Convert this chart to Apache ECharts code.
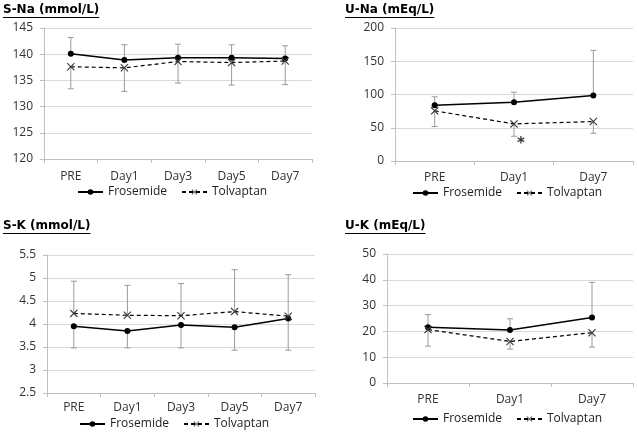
<!DOCTYPE html>
<html>
<head>
<meta charset="utf-8">
<script src="https://cdn.jsdelivr.net/npm/echarts@6/dist/echarts.min.js"></script>
<style>
  html, body { margin: 0; padding: 0; background: #fff; }
  #chart { width: 637px; height: 435px; }
</style>
</head>
<body>
<div id="chart"></div>
<script>
// categories
const serumDays = ['PRE', 'Day1', 'Day3', 'Day5', 'Day7'];
const urineDays = ['PRE', 'Day1', 'Day7'];
const legendNames = ['Frosemide', 'Tolvaptan'];
const panelTitles = ['S-Na (mmol/L)', 'U-Na (mEq/L)', 'S-K (mmol/L)', 'U-K (mEq/L)'];

// S-Na (mmol/L)
const sNaFrosemide = [140.1, 138.9, 139.3, 139.3, 139.2];
const sNaFrosemideHigh = [143.2, 141.8, 141.9, 141.8, 141.6];
const sNaTolvaptan = [137.6, 137.4, 138.6, 138.4, 138.7];
const sNaTolvaptanLow = [133.4, 132.9, 134.5, 134.1, 134.2];

// U-Na (mEq/L)
const uNaFrosemide = [83.9, 88.4, 98.5];
const uNaFrosemideHigh = [96.5, 103.5, 166.3];
const uNaTolvaptan = [75.4, 55.8, 59.3];
const uNaTolvaptanLow = [51.8, 37.2, 41.7];
const uNaStar = ['Day1', 31];

// S-K (mmol/L)
const sKFrosemide = [3.95, 3.85, 3.98, 3.93, 4.12];
const sKFrosemideLow = [3.48, 3.48, 3.48, 3.43, 3.43];
const sKTolvaptan = [4.23, 4.19, 4.18, 4.27, 4.17];
const sKTolvaptanHigh = [4.93, 4.84, 4.88, 5.18, 5.07];

// U-K (mEq/L)
const uKFrosemide = [21.6, 20.5, 25.4];
const uKFrosemideHigh = [26.5, 24.9, 39.0];
const uKTolvaptan = [20.7, 16.1, 19.5];
const uKTolvaptanLow = [14.3, 13.1, 13.9];

const FONT = 'Open Sans';
const TITLE_FONT = 'DejaVu Sans';
const crossPath = 'path://M0,1 L1,0 L5,4 L9,0 L10,1 L6,5 L10,9 L9,10 L5,6 L1,10 L0,9 L4,5 Z';

const grids = [
    {left: 44, top: 28, width: 268, height: 131},
    {left: 395, top: 28, width: 238, height: 133},
    {left: 47, top: 255, width: 268, height: 138},
    {left: 387, top: 254, width: 246, height: 129}
];
const yRanges = [
    {min: 120, max: 145, interval: 5},
    {min: 0, max: 200, interval: 50},
    {min: 2.5, max: 5.5, interval: 0.5},
    {min: 0, max: 50, interval: 10}
];
const xLabelMargins = [12, 11, 9, 11];
const titlePos = [[3, 4], [345, 4], [3, 220], [345, 220]];
const legendPos = [[77, 186], [412, 187], [79, 418], [412, 413]];

function render_error(params, api) {
    const from = api.coord([api.value(0), api.value(1)]);
    const to = api.coord([api.value(0), api.value(2)]);
    const half = 3;
    const style = {stroke: '#9a9a9a', lineWidth: 1};
    return {
        type: 'group',
        children: [{
            type: 'line',
            shape: {x1: from[0], y1: from[1], x2: to[0], y2: to[1]},
            style: style
        }, {
            type: 'line',
            shape: {x1: to[0] - half, y1: to[1], x2: to[0] + half, y2: to[1]},
            style: style
        }]
    };
}

function errorData(limits, means) {
    return limits.map((v, i) => [i, means[i], v]);
}

function frosemideLine(idx, data) {
    return {
        name: 'Frosemide', type: 'line', xAxisIndex: idx, yAxisIndex: idx,
        data: data, symbol: 'circle', symbolSize: 6, z: 3,
        itemStyle: {color: '#000'},
        lineStyle: {color: '#000', width: 1.5},
        animation: false
    };
}

function tolvaptanLine(idx, data) {
    return {
        name: 'Tolvaptan', type: 'line', xAxisIndex: idx, yAxisIndex: idx,
        data: data, symbol: crossPath, symbolSize: 8, z: 3,
        itemStyle: {color: '#3a3a3a'},
        lineStyle: {color: '#000', width: 1.2, type: [4, 3]},
        animation: false
    };
}

function errorSeries(idx, data) {
    return {
        type: 'custom', xAxisIndex: idx, yAxisIndex: idx,
        renderItem: render_error, data: data, z: 1,
        encode: {x: 0, y: [1, 2]},
        silent: true, animation: false
    };
}

// measure title width for the underline
const ctx = document.createElement('canvas').getContext('2d');
ctx.font = 'bold 12px "' + TITLE_FONT + '"';

const uNaTol = tolvaptanLine(1, uNaTolvaptan);
uNaTol.markPoint = {
    symbol: 'circle', symbolSize: 0,
    data: [{coord: uNaStar}],
    label: {show: true, formatter: '*', offset: [7, 4], fontSize: 15, fontWeight: 'bold', color: '#333', fontFamily: TITLE_FONT}
};

const option = {
    backgroundColor: '#fff',
    animation: false,
    textStyle: {fontFamily: FONT},
    title: panelTitles.map((t, i) => ({
        text: t, left: titlePos[i][0], top: titlePos[i][1], padding: 0,
        textStyle: {fontFamily: TITLE_FONT, fontSize: 12, fontWeight: 'bold', color: '#000'}
    })),
    graphic: panelTitles.map((t, i) => ({
        type: 'rect',
        shape: {x: titlePos[i][0], y: titlePos[i][1] + 13, width: ctx.measureText(t).width, height: 1},
        style: {fill: '#000'}
    })),
    legend: legendPos.map(p => ({
        data: legendNames, left: p[0], top: p[1], padding: 0,
        itemWidth: 25, itemHeight: 7, itemGap: 14,
        textStyle: {fontFamily: FONT, fontSize: 12, color: '#222'}
    })),
    grid: grids,
    xAxis: grids.map((g, i) => ({
        type: 'category', gridIndex: i,
        data: (i % 2 === 0) ? serumDays : urineDays,
        axisLine: {lineStyle: {color: '#bfbfbf'}},
        axisTick: {show: true, length: 4, lineStyle: {color: '#bfbfbf'}},
        axisLabel: {fontFamily: FONT, fontSize: 12, color: '#333', margin: xLabelMargins[i]},
        splitLine: {show: false}
    })),
    yAxis: yRanges.map((r, i) => ({
        type: 'value', gridIndex: i, min: r.min, max: r.max, interval: r.interval,
        axisLine: {show: true, lineStyle: {color: '#bfbfbf'}},
        axisTick: {show: true, length: 4, lineStyle: {color: '#bfbfbf'}},
        axisLabel: {fontFamily: FONT, fontSize: 12, color: '#333', margin: 11},
        splitLine: {lineStyle: {color: '#d9d9d9'}}
    })),
    series: [
        errorSeries(0, errorData(sNaFrosemideHigh, sNaFrosemide)),
        errorSeries(0, errorData(sNaTolvaptanLow, sNaTolvaptan)),
        frosemideLine(0, sNaFrosemide),
        tolvaptanLine(0, sNaTolvaptan),

        errorSeries(1, errorData(uNaFrosemideHigh, uNaFrosemide)),
        errorSeries(1, errorData(uNaTolvaptanLow, uNaTolvaptan)),
        frosemideLine(1, uNaFrosemide),
        uNaTol,

        errorSeries(2, errorData(sKFrosemideLow, sKFrosemide)),
        errorSeries(2, errorData(sKTolvaptanHigh, sKTolvaptan)),
        frosemideLine(2, sKFrosemide),
        tolvaptanLine(2, sKTolvaptan),

        errorSeries(3, errorData(uKFrosemideHigh, uKFrosemide)),
        errorSeries(3, errorData(uKTolvaptanLow, uKTolvaptan)),
        frosemideLine(3, uKFrosemide),
        tolvaptanLine(3, uKTolvaptan)
    ]
};

const chart = echarts.init(document.getElementById('chart'), null, {renderer: 'canvas'});
chart.setOption(option);
</script>
</body>
</html>
